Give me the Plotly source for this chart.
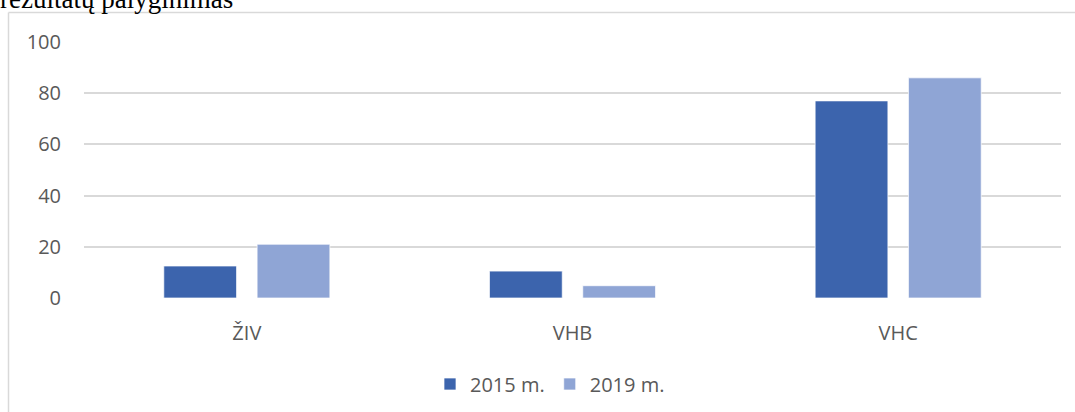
import plotly.graph_objects as go

categories = ["ŽIV", "VHB", "VHC"]
series_names = ["2015 m.", "2019 m."]
values_2015 = [12.5, 10.5, 77.0]
values_2019 = [21.0, 4.8, 86.0]
y_ticks = [0, 20, 40, 60, 80, 100]
title_text = "rezultatų palyginimas"

W, H = 1075, 412
# target pixel positions of plot area
X0, X1, Y0, Y1 = 84, 1061, 42, 298
L, R, T, B = X0, W - X1, Y0, H - Y1
pw, ph = W - L - R, H - T - B

def px(x):
    return (x - X0) / pw

def py(y):
    return (Y1 - y) / ph

colors = ["#3C64AD", "#8FA5D5"]
fig = go.Figure()
for name, vals, c in zip(series_names, [values_2015, values_2019], colors):
    fig.add_trace(go.Bar(
        x=categories, y=vals, name=name,
        marker=dict(color=c, line=dict(color="rgba(255,255,255,0.7)", width=1)),
    ))

font_family = "Open Sans, Liberation Sans, Arial, sans-serif"
fs = 20
fig.update_layout(
    width=W, height=H,
    margin=dict(l=L, r=R, t=T, b=B, autoexpand=False),
    paper_bgcolor="white", plot_bgcolor="white",
    barmode="group", bargap=0.427, bargroupgap=0.22,
    font=dict(family=font_family, size=fs, color="#595959"),
    showlegend=True,
    legend=dict(orientation="h", x=px(550), xanchor="center", y=py(384), yanchor="middle",
                font=dict(size=fs, color="#595959"), itemwidth=30, traceorder="normal",
                tracegroupgap=0),
    xaxis=dict(showgrid=False, showline=False, zeroline=False, ticks="", automargin=False,
               tickfont=dict(size=fs, color="#595959"), ticklabelstandoff=21),
    yaxis=dict(range=[0, 100], tickvals=y_ticks, showgrid=True, gridcolor="#D9D9D9",
               gridwidth=1.5, zeroline=False, showline=False, ticks="", automargin=False,
               tickfont=dict(size=fs, color="#595959"), ticklabelstandoff=22),
)

# chart frame (left and top edges visible)
fig.add_shape(type="line", xref="paper", yref="paper",
              x0=px(8.5), x1=px(8.5), y0=py(420), y1=py(12.5),
              line=dict(color="#D9D9D9", width=1.5))
fig.add_shape(type="line", xref="paper", yref="paper",
              x0=px(8.5), x1=px(1080), y0=py(12.5), y1=py(12.5),
              line=dict(color="#D9D9D9", width=1.5))

fig.add_annotation(text=title_text, xref="paper", yref="paper",
                   x=px(-2), xanchor="left", y=py(16), yanchor="bottom",
                   showarrow=False,
                   font=dict(family="Liberation Serif, Times New Roman, serif", size=27, color="#000000"))

fig.write_html("out.html", config={"displayModeBar": False},
               post_script="document.body.style.margin='0';document.body.style.overflow='hidden';")
